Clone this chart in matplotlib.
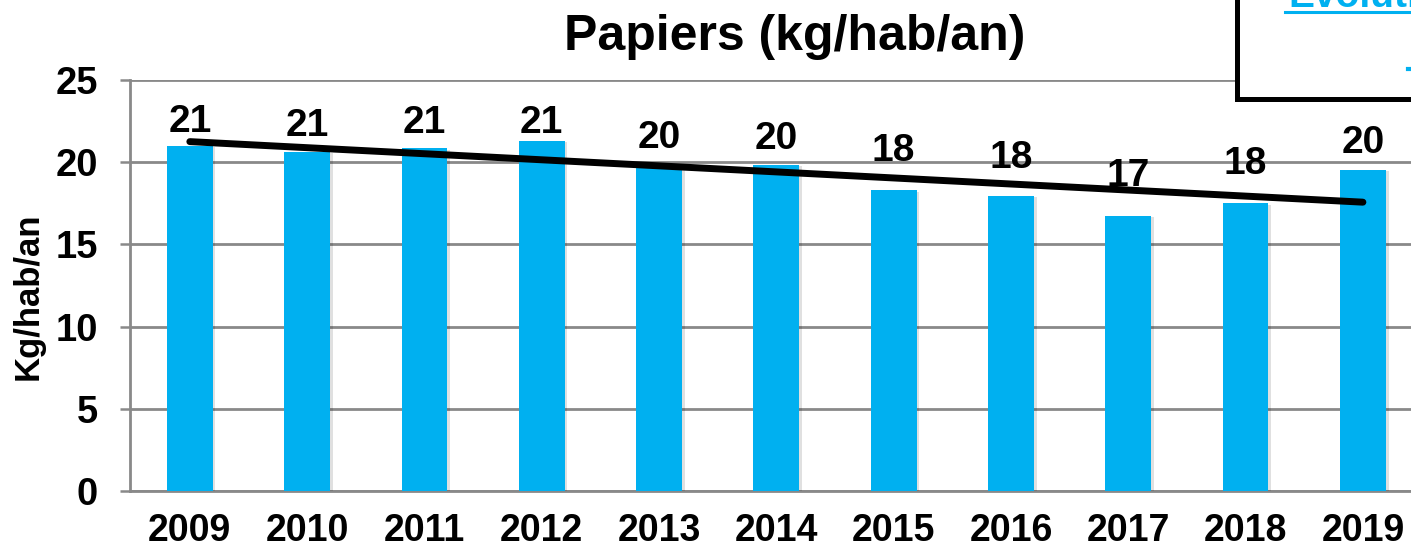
import matplotlib
matplotlib.use("Agg")
import matplotlib.pyplot as plt
import matplotlib.patheffects as pe
from matplotlib.patches import Rectangle
from matplotlib.lines import Line2D
import numpy as np

plt.rcParams['font.family'] = ['Liberation Sans', 'DejaVu Sans']
plt.rcParams['font.weight'] = 'bold'

# données
years = ['2009', '2010', '2011', '2012', '2013', '2014',
         '2015', '2016', '2017', '2018', '2019']
papiers = [20.99, 20.64, 20.85, 21.29, 19.9, 19.83,
           18.3, 17.94, 16.75, 17.5, 19.52]
labels = ['21', '21', '21', '21', '20', '20', '18', '18', '17', '18', '20']
# décalage des étiquettes au-dessus des barres (en pixels)
label_lift = [14, 16, 15, 8, 16, 16, 29, 28, 30, 29, 17]

bleu = '#00B0F0'
gris = '#898989'

fig = plt.figure(figsize=(14.11, 5.48), dpi=100)
ax = fig.add_axes([130/1411, 1 - 491/548, 1 - 130/1411, (491 - 80)/548])

x = np.arange(len(years))
bars = ax.bar(x, papiers, width=0.39, color=bleu, zorder=3)
for b in bars:
    b.set_path_effects([pe.SimplePatchShadow(offset=(2, -1), shadow_rgbFace='#000000', alpha=0.12),
                        pe.Normal()])

# courbe de tendance linéaire
a, c = np.polyfit(x, papiers, 1)
ax.plot([x[0], x[-1]], [a * x[0] + c, a * x[-1] + c], color='black', lw=5,
        solid_capstyle='round', zorder=4)

for xi, v, lab, off in zip(x, papiers, labels, label_lift):
    ax.annotate(lab, (xi, v), xytext=(0, off * 0.72), textcoords='offset points',
                ha='center', va='baseline', fontsize=28, fontweight='bold', zorder=5)

ax.set_xlim(-0.51, 10.41)
ax.set_ylim(0, 25)
ax.set_yticks([0, 5, 10, 15, 20, 25])
ax.set_xticks(x)
ax.set_xticklabels(years)
ax.tick_params(axis='y', length=7.2, width=1.8, color=gris, pad=16, labelsize=27.5)
ax.tick_params(axis='x', length=0, pad=16, labelsize=27)
for t in ax.get_xticklabels() + ax.get_yticklabels():
    t.set_fontweight('bold')

for s in ['top', 'right']:
    ax.spines[s].set_visible(False)
for s in ['left', 'bottom']:
    ax.spines[s].set_color(gris)
    ax.spines[s].set_linewidth(2)
ax.yaxis.grid(True, color=gris, lw=2, zorder=0)
ax.set_axisbelow(True)

fig.text(795/1411, 1 - 37/548, 'Papiers (kg/hab/an)', ha='center', va='center',
         fontsize=36, fontweight='bold')
fig.text(28/1411, 1 - 296/548, 'Kg/hab/an', rotation=90, ha='center', va='center',
         fontsize=25, fontweight='bold')

# encadré coupé en haut à droite
box = Rectangle((1237/1411, 1 - 99/548), 0.2, 0.3, transform=fig.transFigure,
                facecolor='white', edgecolor='black', lw=3.6, zorder=10)
fig.add_artist(box)
fig.text(1288/1411, 1 - 7/548, 'Evolution', color=bleu, ha='left', va='baseline',
         fontsize=28, fontweight='bold', zorder=11)
fig.add_artist(Line2D([1285/1411, 1.0], [1 - 12/548, 1 - 12/548], transform=fig.transFigure,
                      color=bleu, lw=2.2, zorder=11))
fig.add_artist(Line2D([1408/1411, 1.0], [1 - 69/548, 1 - 69/548], transform=fig.transFigure,
                      color=bleu, lw=3, zorder=11))

fig.savefig('out.png', dpi=100)
